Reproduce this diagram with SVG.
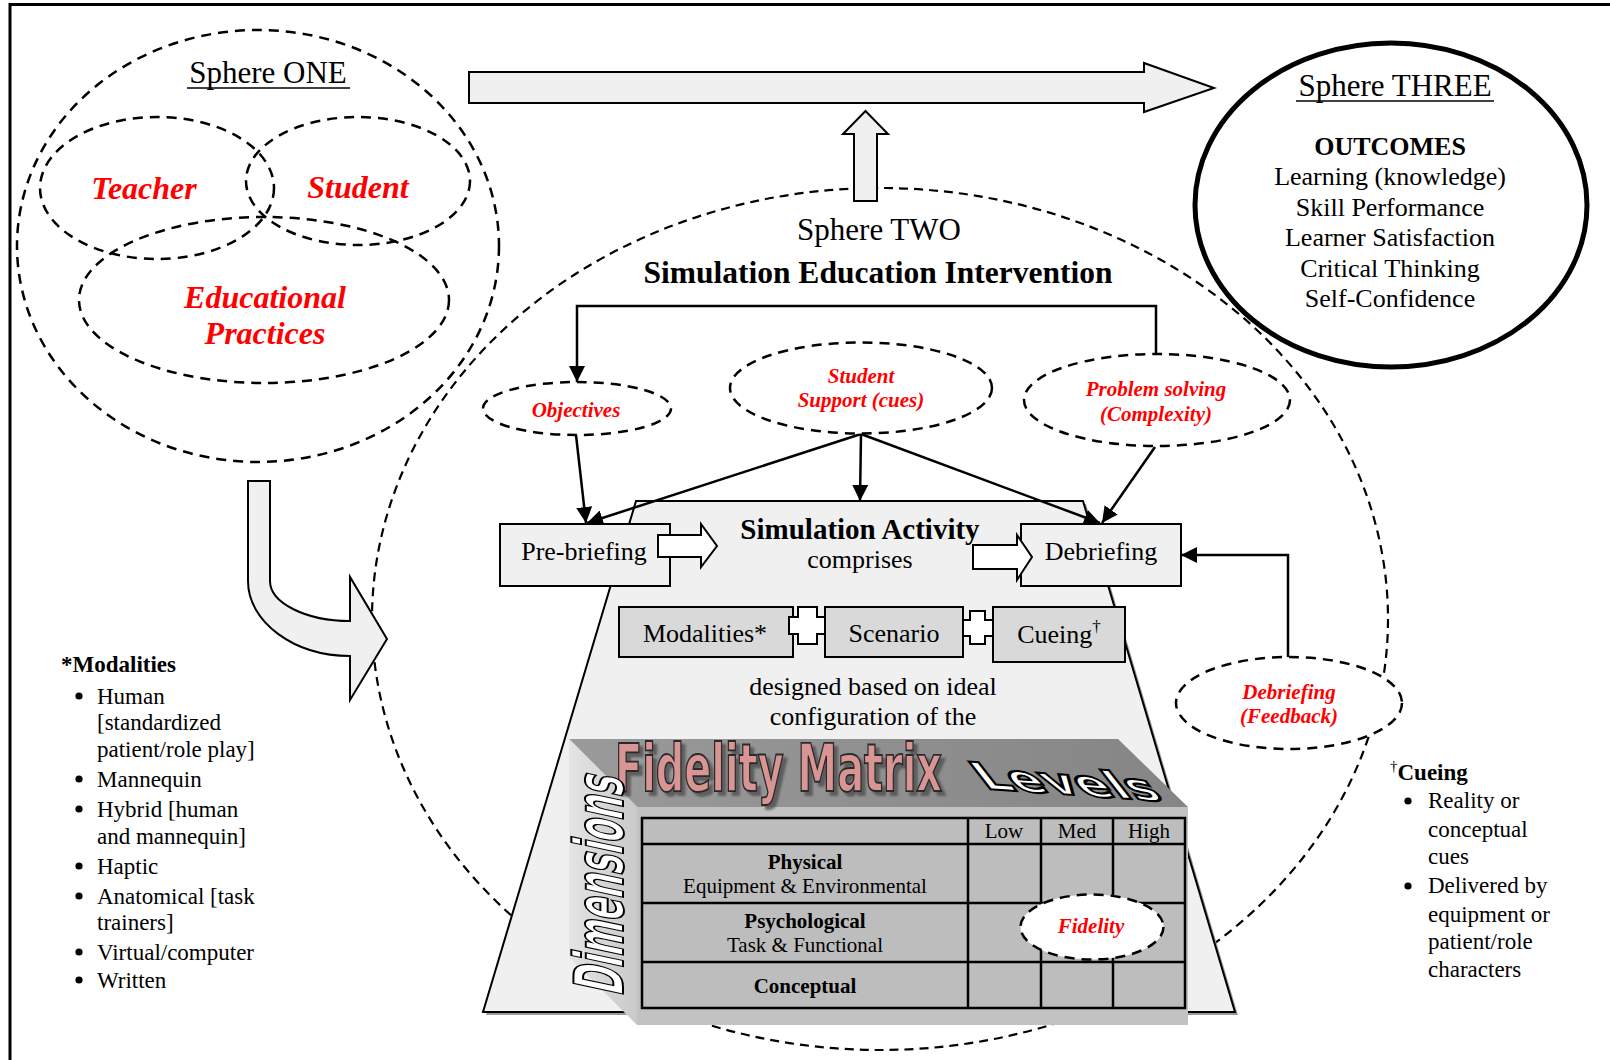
<svg xmlns="http://www.w3.org/2000/svg" width="1610" height="1060" viewBox="0 0 1610 1060">
  <defs>
    <style>
      .serif { font-family: "Liberation Serif", "Times New Roman", serif; fill: #000; }
      .red { font-family: "Liberation Serif", "Times New Roman", serif; fill: #ff0000; font-weight: bold; font-style: italic; }
      .bold { font-weight: bold; }
      .dash { fill: none; stroke: #000; stroke-width: 2.5; stroke-dasharray: 10 7; }
      .dashw { fill: #fff; stroke: #000; stroke-width: 2.5; stroke-dasharray: 10 7; }
      .box { fill: #f0f0f0; stroke: #000; stroke-width: 2; }
      .sub { fill: #d9d9d9; stroke: #000; stroke-width: 2; }
      .block { fill: #f0f0f0; stroke: #000; stroke-width: 2; stroke-linejoin: miter; }
      .wblock { fill: #fff; stroke: #000; stroke-width: 2; }
      .conn { fill: none; stroke: #000; stroke-width: 2.5; }
      .grid { fill: none; stroke: #000; stroke-width: 2.5; }
      .word { font-family: "Liberation Sans Narrow", "DejaVu Sans Condensed", "Liberation Sans", sans-serif; font-weight: bold; }
    </style>
    <marker id="arrow" markerUnits="userSpaceOnUse" markerWidth="16" markerHeight="16" refX="16" refY="8" orient="auto">
      <path d="M0,0 L16,8 L0,16 Z" fill="#000"/>
    </marker>
    <linearGradient id="topface" x1="0" y1="0" x2="1" y2="0">
      <stop offset="0" stop-color="#9a9a9a"/>
      <stop offset="1" stop-color="#858585"/>
    </linearGradient>
    <linearGradient id="sideface" x1="0" y1="0" x2="1" y2="0">
      <stop offset="0" stop-color="#e4e4e4"/>
      <stop offset="1" stop-color="#c9c9c9"/>
    </linearGradient>
    <filter id="wordshadow" x="-5%" y="-20%" width="115%" height="150%">
      <feDropShadow dx="4" dy="4" stdDeviation="1" flood-color="#444" flood-opacity="0.7"/>
    </filter>
  </defs>

  <!-- page frame -->
  <path d="M10,1060 V4.5 H1610" fill="none" stroke="#000" stroke-width="3"/>

  <!-- Sphere TWO boundary (behind everything) -->
  <g id="sphere-two-boundary">
    <ellipse cx="880" cy="619" rx="508" ry="431" fill="none" stroke="#000" stroke-width="2.2" stroke-dasharray="9 6"/>
  </g>

  <!-- Sphere ONE -->
  <g id="sphere-one">
    <ellipse cx="258" cy="246" rx="241" ry="216" class="dash"/>
    <text x="268" y="83" class="serif" font-size="31" text-anchor="middle">Sphere ONE</text>
    <line x1="187" y1="88" x2="350" y2="88" stroke="#000" stroke-width="1.6"/>
  </g>
  <g id="teacher">
    <ellipse cx="157" cy="188" rx="117" ry="71" class="dash"/>
    <text x="144" y="199" class="red" font-size="32" text-anchor="middle">Teacher</text>
  </g>
  <g id="student">
    <ellipse cx="358" cy="181" rx="112" ry="64" class="dash"/>
    <text x="358" y="198" class="red" font-size="32" text-anchor="middle">Student</text>
  </g>
  <g id="educational-practices">
    <ellipse cx="264" cy="300" rx="185" ry="83" class="dash"/>
    <text x="265" y="308" class="red" font-size="32" text-anchor="middle">Educational</text>
    <text x="265" y="344" class="red" font-size="32" text-anchor="middle">Practices</text>
  </g>

  <!-- big arrow Sphere ONE/TWO to Sphere THREE -->
  <g id="arrow-to-outcomes">
    <path d="M469,72 H1144 V63 L1214,88 L1144,112 V103 H469 Z" class="block"/>
  </g>

  <!-- Sphere THREE -->
  <g id="sphere-three">
    <ellipse cx="1391" cy="205" rx="196" ry="162" fill="#fff" stroke="#000" stroke-width="5"/>
    <text x="1395" y="96" class="serif" font-size="31" text-anchor="middle">Sphere THREE</text>
    <line x1="1296" y1="101" x2="1494" y2="101" stroke="#000" stroke-width="1.6"/>
    <text x="1390" y="155" class="serif bold" font-size="26" text-anchor="middle">OUTCOMES</text>
    <text x="1390" y="185" class="serif" font-size="26" text-anchor="middle">Learning (knowledge)</text>
    <text x="1390" y="216" class="serif" font-size="26" text-anchor="middle">Skill Performance</text>
    <text x="1390" y="246" class="serif" font-size="26" text-anchor="middle">Learner Satisfaction</text>
    <text x="1390" y="277" class="serif" font-size="26" text-anchor="middle">Critical Thinking</text>
    <text x="1390" y="307" class="serif" font-size="26" text-anchor="middle">Self-Confidence</text>
  </g>

  <!-- curved arrow Sphere ONE to Sphere TWO -->
  <g id="arrow-into-sphere-two">
    <path d="M248,481 H270 V581 C270,603 306,621 350,621 V577 L387,639 L350,700 V656 C294,656 248,622 248,581 Z" class="block"/>
  </g>

  <!-- Sphere TWO headings -->
  <g id="sphere-two-title">
    <text x="879" y="240" class="serif" font-size="31" text-anchor="middle">Sphere TWO</text>
    <text x="878" y="283" class="serif bold" font-size="31.5" text-anchor="middle">Simulation Education Intervention</text>
  </g>

  <!-- upward arrow Sphere TWO to outcome arrow -->
  <g id="arrow-up">
    <path d="M854,201 V134 H843 L865.5,111 L888,134 H877 V201 Z" class="block"/>
  </g>

  <!-- Simulation activity trapezoid -->
  <g id="simulation-activity">
    <polygon points="639,504 1086,504 1238,1015 486,1015" fill="#9a9a9a"/>
    <polygon points="636,501 1083,501 1235,1012 483,1012" class="block"/>
    <text x="860" y="539" class="serif bold" font-size="29" text-anchor="middle">Simulation Activity</text>
    <text x="860" y="568" class="serif" font-size="26" text-anchor="middle">comprises</text>
    <text x="873" y="695" class="serif" font-size="26" text-anchor="middle">designed based on ideal</text>
    <text x="873" y="725" class="serif" font-size="26" text-anchor="middle">configuration of the</text>
  </g>

  <!-- connectors -->
  <g id="connectors">
    <path d="M1156,354 V306 H577 V382" class="conn" marker-end="url(#arrow)"/>
    <path d="M576,435 L586,523" class="conn" marker-end="url(#arrow)"/>
    <path d="M861,434 L587,523" class="conn" marker-end="url(#arrow)"/>
    <path d="M861,434 L860,501" class="conn" marker-end="url(#arrow)"/>
    <path d="M861,434 L1100,523" class="conn" marker-end="url(#arrow)"/>
    <path d="M1155,447 L1102,523" class="conn" marker-end="url(#arrow)"/>
    <path d="M1288,657 V555 H1181" class="conn" marker-end="url(#arrow)"/>
  </g>

  <g id="objectives">
    <ellipse cx="577" cy="408.5" rx="94" ry="26.5" class="dashw"/>
    <text x="576" y="417" class="red" font-size="21" text-anchor="middle">Objectives</text>
  </g>
  <g id="student-support">
    <ellipse cx="861" cy="388" rx="131" ry="45.5" class="dashw"/>
    <text x="861" y="383" class="red" font-size="21" text-anchor="middle">Student</text>
    <text x="861" y="407" class="red" font-size="21" text-anchor="middle">Support (cues)</text>
  </g>
  <g id="problem-solving">
    <ellipse cx="1157" cy="400" rx="133" ry="46" class="dashw"/>
    <text x="1156" y="396" class="red" font-size="21" text-anchor="middle">Problem solving</text>
    <text x="1156" y="421" class="red" font-size="21" text-anchor="middle">(Complexity)</text>
  </g>

  <g id="pre-briefing">
    <rect x="500" y="524" width="170" height="62" class="box"/>
    <text x="584" y="560" class="serif" font-size="26" text-anchor="middle">Pre-briefing</text>
    <path d="M658,535 H701 V524 L717,546 L701,567 V557 H658 Z" class="wblock"/>
  </g>
  <g id="debriefing">
    <rect x="1021" y="524" width="160" height="62" class="box"/>
    <path d="M973,545 H1017 V535 L1032,557 L1017,580 V569 H973 Z" class="wblock"/>
    <text x="1101" y="560" class="serif" font-size="26" text-anchor="middle">Debriefing</text>
  </g>

  <!-- components -->
  <g id="modalities">
    <rect x="619" y="607" width="174" height="50" class="sub"/>
    <text x="705" y="642" class="serif" font-size="26" text-anchor="middle">Modalities*</text>
  </g>
  <g id="scenario">
    <rect x="825" y="607" width="138" height="50" class="sub"/>
    <text x="894" y="642" class="serif" font-size="26" text-anchor="middle">Scenario</text>
  </g>
  <g id="cueing">
    <rect x="993" y="607" width="132" height="55" class="sub"/>
    <text x="1059" y="643" class="serif" font-size="26" text-anchor="middle">Cueing<tspan font-size="17" dy="-11">†</tspan></text>
  </g>
  <g id="plus-signs">
    <path d="M798,607 H817 V617 H825 V634 H817 V644 H798 V634 H789 V617 H798 Z" class="wblock"/>
    <path d="M970,611 H985 V620 H993 V636 H985 V644 H970 V636 H963 V620 H970 Z" class="wblock"/>
  </g>

  <!-- Fidelity matrix block -->
  <g id="fidelity-matrix">
    <polygon points="569,739 1118,739 1188,807 637,807" fill="url(#topface)"/>
    <polygon points="569,739 637,807 637,1025 569,957" fill="url(#sideface)"/>
    <rect x="637" y="807" width="551" height="218" fill="#c2c2c2"/>
    <rect x="642" y="818" width="543" height="190" fill="#bdbdbd"/>
    <g class="grid">
      <rect x="642" y="818" width="543" height="190"/>
      <line x1="642" y1="844" x2="1185" y2="844"/>
      <line x1="642" y1="903" x2="1185" y2="903"/>
      <line x1="642" y1="962" x2="1185" y2="962"/>
      <line x1="968" y1="818" x2="968" y2="1008"/>
      <line x1="1041" y1="818" x2="1041" y2="1008"/>
      <line x1="1113" y1="818" x2="1113" y2="1008"/>
    </g>
    <text x="615" y="791" class="word" font-size="66" textLength="327" lengthAdjust="spacingAndGlyphs" fill="#d99594" stroke="#2a2a2a" stroke-width="1.8" filter="url(#wordshadow)">Fidelity Matrix</text>
    <text transform="translate(986,789) rotate(4) skewX(42)" class="word" font-size="36" textLength="180" lengthAdjust="spacingAndGlyphs" fill="#fff" stroke="#000" stroke-width="2">Levels</text>
    <text transform="translate(623,997) rotate(-90) skewX(-12)" class="word" font-size="68" textLength="219" lengthAdjust="spacingAndGlyphs" fill="#fff" stroke="#000" stroke-width="2">Dimensions</text>
    <text x="1004" y="838" class="serif" font-size="21" text-anchor="middle">Low</text>
    <text x="1077" y="838" class="serif" font-size="21" text-anchor="middle">Med</text>
    <text x="1149" y="838" class="serif" font-size="21" text-anchor="middle">High</text>
    <text x="805" y="869" class="serif bold" font-size="21" text-anchor="middle">Physical</text>
    <text x="805" y="893" class="serif" font-size="21" text-anchor="middle">Equipment &amp; Environmental</text>
    <text x="805" y="928" class="serif bold" font-size="21" text-anchor="middle">Psychological</text>
    <text x="805" y="952" class="serif" font-size="21" text-anchor="middle">Task &amp; Functional</text>
    <text x="805" y="993" class="serif bold" font-size="21" text-anchor="middle">Conceptual</text>
  </g>
  <g id="fidelity">
    <ellipse cx="1092" cy="927" rx="71.5" ry="32.5" class="dashw"/>
    <text x="1091" y="933" class="red" font-size="21" text-anchor="middle">Fidelity</text>
  </g>

  <g id="debriefing-feedback">
    <ellipse cx="1289" cy="703" rx="113" ry="46" class="dashw"/>
    <text x="1289" y="699" class="red" font-size="21" text-anchor="middle">Debriefing</text>
    <text x="1289" y="723" class="red" font-size="21" text-anchor="middle">(Feedback)</text>
  </g>

  <!-- legends -->
  <g id="modalities-legend" class="serif" font-size="23">
    <text x="61" y="672" class="bold">*Modalities</text>
    <g fill="#000">
      <circle cx="79" cy="696" r="3.6"/>
      <circle cx="79" cy="779" r="3.6"/>
      <circle cx="79" cy="809" r="3.6"/>
      <circle cx="79" cy="866" r="3.6"/>
      <circle cx="79" cy="896" r="3.6"/>
      <circle cx="79" cy="952" r="3.6"/>
      <circle cx="79" cy="980" r="3.6"/>
    </g>
    <text x="97" y="704">Human</text>
    <text x="97" y="730">[standardized</text>
    <text x="97" y="757">patient/role play]</text>
    <text x="97" y="787">Mannequin</text>
    <text x="97" y="817">Hybrid [human</text>
    <text x="97" y="844">and mannequin]</text>
    <text x="97" y="874">Haptic</text>
    <text x="97" y="904">Anatomical [task</text>
    <text x="97" y="930">trainers]</text>
    <text x="97" y="960">Virtual/computer</text>
    <text x="97" y="988">Written</text>
  </g>
  <g id="cueing-legend" class="serif" font-size="23">
    <text x="1390" y="780"><tspan font-size="15" dy="-9">†</tspan><tspan class="bold" dy="9">Cueing</tspan></text>
    <g fill="#000">
      <circle cx="1408" cy="801" r="3.6"/>
      <circle cx="1408" cy="886" r="3.6"/>
    </g>
    <text x="1428" y="808">Reality or</text>
    <text x="1428" y="837">conceptual</text>
    <text x="1428" y="864">cues</text>
    <text x="1428" y="893">Delivered by</text>
    <text x="1428" y="922">equipment or</text>
    <text x="1428" y="949">patient/role</text>
    <text x="1428" y="977">characters</text>
  </g>
</svg>
